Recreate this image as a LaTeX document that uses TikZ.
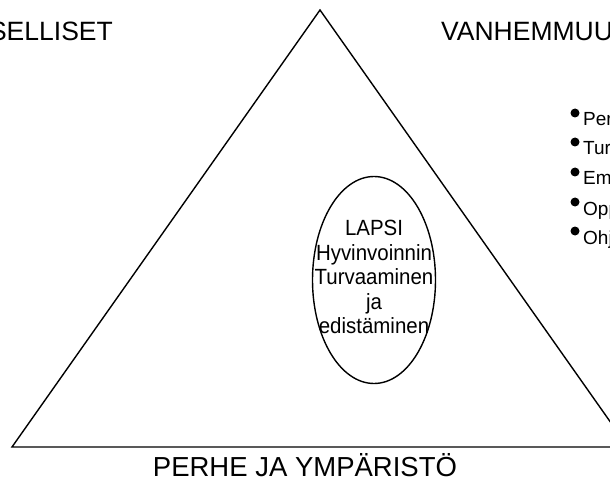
\documentclass[tikz,border=0pt]{standalone}
\usepackage{fontspec}
\setmainfont{Liberation Sans}
\usetikzlibrary{shapes.geometric}
\tikzset{
  edge/.style={line width=1.4pt, line join=miter},
  bigtxt/.style={font=\fontsize{27.5}{30}\selectfont, inner sep=0pt},
  cornertxt/.style={font=\fontsize{26.5}{30}\selectfont, inner sep=0pt},
  midtxt/.style={font=\fontsize{22}{24.5}\selectfont, align=center, inner sep=0pt, xscale=0.93},
  smalltxt/.style={font=\fontsize{19}{21}\selectfont, inner sep=0pt, anchor=base west},
  dotmark/.style={circle, fill=black, inner sep=0pt, minimum size=9pt},
  oval/.style={draw, line width=1.4pt, ellipse, inner sep=0pt, minimum width=123pt, minimum height=207pt},
}
\begin{document}
\begin{tikzpicture}[x=1pt,y=-1pt]
\useasboundingbox (0,0) rectangle (610,481);
\clip (0,0) rectangle (610,481);
% triangle
\coordinate (apex) at (320,10);
\coordinate (bl) at (12,447);
\coordinate (br) at (628,447);
\draw[edge] (bl) -- (apex) -- (br) -- cycle;
% ellipse
\node[oval] (c) at (374,280) {};
\node[midtxt] (lapsi) at (374,277) {LAPSI\\Hyvinvoinnin\\Turvaaminen\\ja\\edistäminen};
% corner labels
\node[cornertxt, anchor=base east] (yks) at (113,41) {SELLISET};
\node[cornertxt, anchor=base west] (van) at (441,41) {VANHEMMUU};
\node[bigtxt, anchor=base] (perhe) at (305,476) {PERHE JA YMPÄRISTÖ};
% bullets
\foreach \y/\t [count=\i] in {126/Per,155/Tur,185/Em,215/Opp,244/Ohj}{
  \node[dotmark] (d\i) at (575,\y-13) {};
  \node[smalltxt] (b\i) at (583,\y) {\t};
}
\end{tikzpicture}
\end{document}
